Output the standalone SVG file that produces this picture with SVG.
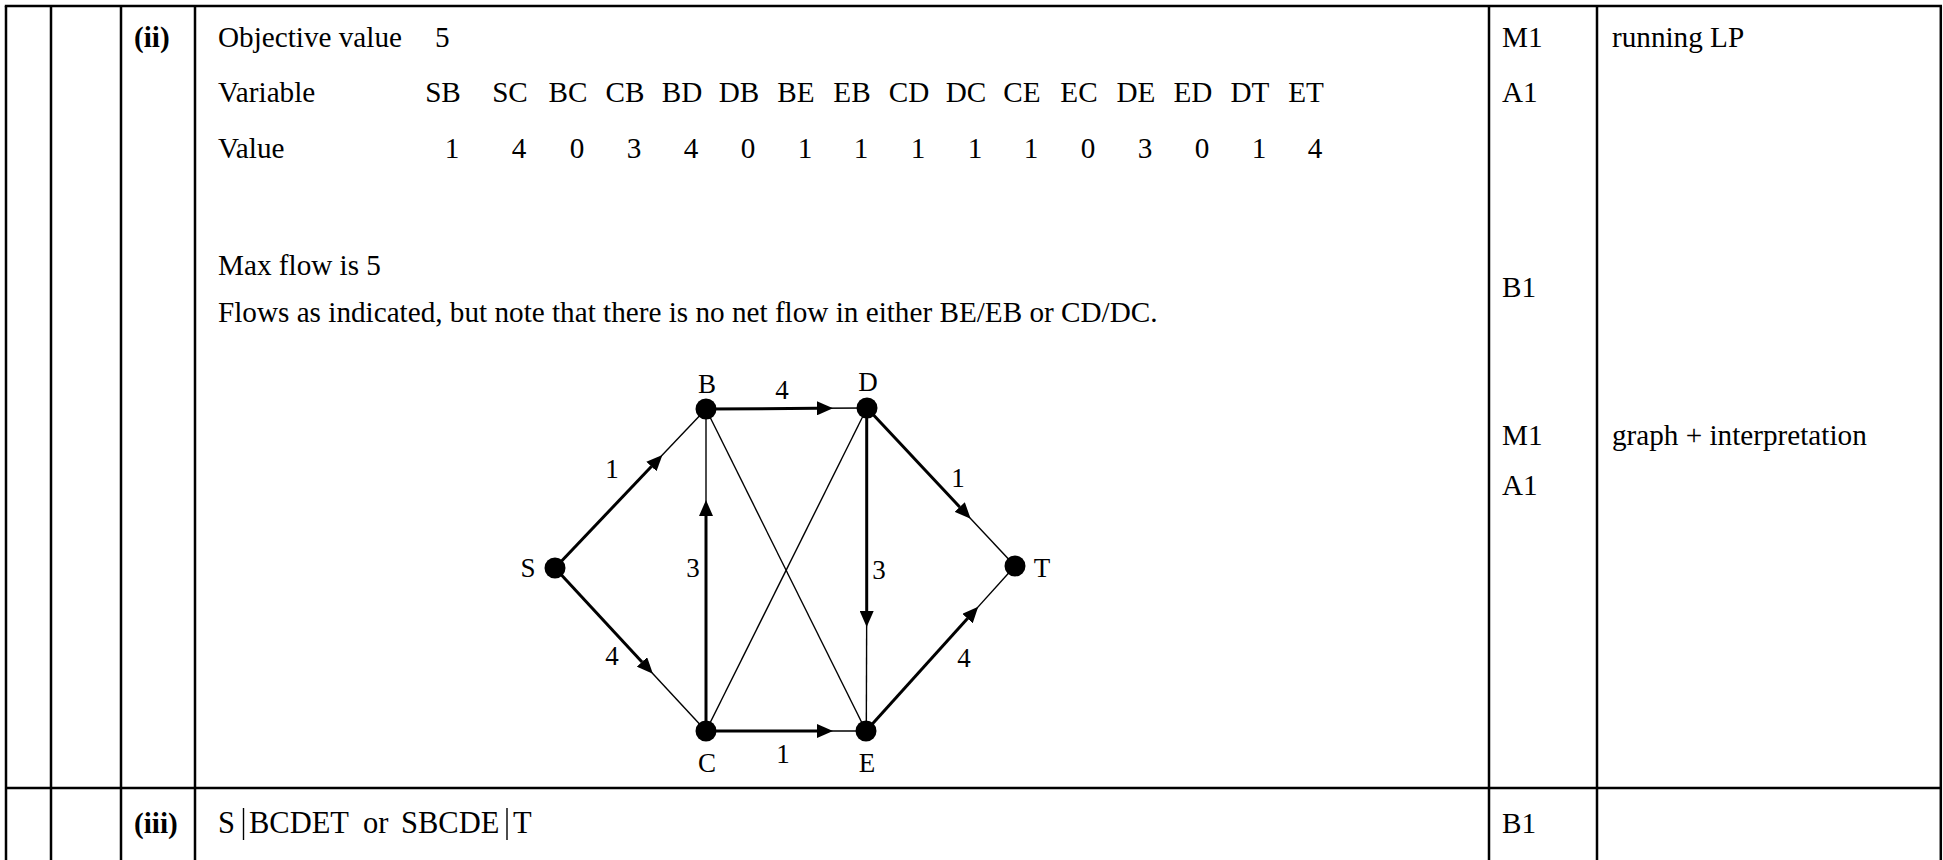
<svg xmlns="http://www.w3.org/2000/svg" width="1943" height="860" viewBox="0 0 1943 860">
<defs>
<marker id="arr" markerUnits="userSpaceOnUse" markerWidth="16" markerHeight="14" refX="0" refY="7" orient="auto" viewBox="0 0 16 14">
<path d="M0,0 L16,7 L0,14 z" fill="#000"/>
</marker>
<style>
.t{font-family:"Liberation Serif","Times New Roman",serif;font-size:29.2px;fill:#000}
.b{font-weight:bold}
.r3{font-size:30.5px}
.g{font-family:"Liberation Serif","Times New Roman",serif;font-size:27px;fill:#000}
.grid{stroke:#000;stroke-width:2.5;fill:none}
.thick{stroke:#000;stroke-width:3;fill:none}
.thin{stroke:#000;stroke-width:1.4;fill:none}
.vh{font-family:"Liberation Serif","Times New Roman",serif;font-size:29.2px;fill:#000;text-anchor:middle}
</style>
</defs>
<rect width="1943" height="860" fill="#fff"/>
<g id="table">
<line class="grid" x1="4.8" y1="6" x2="1942" y2="6"/>
<line class="grid" x1="6" y1="6" x2="6" y2="860"/>
<line class="grid" x1="51" y1="6" x2="51" y2="860"/>
<line class="grid" x1="121" y1="6" x2="121" y2="860"/>
<line class="grid" x1="195" y1="6" x2="195" y2="860"/>
<line class="grid" x1="1489" y1="6" x2="1489" y2="860"/>
<line class="grid" x1="1597" y1="6" x2="1597" y2="860"/>
<line class="grid" x1="1940.8" y1="6" x2="1940.8" y2="860"/>
<line class="grid" x1="6" y1="788" x2="1941" y2="788"/>
</g>
<g id="text-ii">
<text class="t b" x="134" y="47">(ii)</text>
<text class="t" x="218" y="47">Objective value</text>
<text class="t" x="435" y="47">5</text>
<text class="t" x="218" y="102">Variable</text>
<text class="t" x="218" y="158">Value</text>
<text class="vh" y="102"><tspan x="443">SB</tspan><tspan x="510">SC</tspan><tspan x="568">BC</tspan><tspan x="625">CB</tspan><tspan x="682">BD</tspan><tspan x="739">DB</tspan><tspan x="796">BE</tspan><tspan x="852">EB</tspan><tspan x="909">CD</tspan><tspan x="966">DC</tspan><tspan x="1022">CE</tspan><tspan x="1079">EC</tspan><tspan x="1136">DE</tspan><tspan x="1193">ED</tspan><tspan x="1250">DT</tspan><tspan x="1306">ET</tspan></text>
<text class="vh" y="158"><tspan x="452">1</tspan><tspan x="519">4</tspan><tspan x="577">0</tspan><tspan x="634">3</tspan><tspan x="691">4</tspan><tspan x="748">0</tspan><tspan x="805">1</tspan><tspan x="861">1</tspan><tspan x="918">1</tspan><tspan x="975">1</tspan><tspan x="1031">1</tspan><tspan x="1088">0</tspan><tspan x="1145">3</tspan><tspan x="1202">0</tspan><tspan x="1259">1</tspan><tspan x="1315">4</tspan></text>
<text class="t" x="218" y="275">Max flow is 5</text>
<text class="t" x="218" y="322">Flows as indicated, but note that there is no net flow in either BE/EB or CD/DC.</text>
</g>
<g id="marks">
<text class="t" x="1502" y="47">M1</text>
<text class="t" x="1502" y="102">A1</text>
<text class="t" x="1612" y="47">running LP</text>
<text class="t" x="1502" y="297">B1</text>
<text class="t" x="1502" y="445">M1</text>
<text class="t" x="1502" y="495">A1</text>
<text class="t" x="1612" y="445">graph + interpretation</text>
<text class="t" x="1502" y="833">B1</text>
</g>
<g id="text-iii">
<text class="t b" x="134" y="833">(iii)</text>
<text class="t r3" x="218" y="833">S</text>
<line x1="243.5" y1="808" x2="243.5" y2="840" stroke="#000" stroke-width="1.4"/>
<text class="t r3" x="249" y="833">BCDET</text>
<text class="t r3" x="363" y="833">or</text>
<text class="t r3" x="401" y="833">SBCDE</text>
<line x1="507" y1="808" x2="507" y2="840" stroke="#000" stroke-width="1.4"/>
<text class="t r3" x="513" y="833">T</text>
</g>
<g id="connectors">
<line class="thick" x1="555" y1="568" x2="651.4" y2="466.5" marker-end="url(#arr)"/>
<line class="thin" x1="651.4" y1="466.5" x2="706" y2="409"/>
<line class="thick" x1="555" y1="568" x2="642" y2="661.9" marker-end="url(#arr)"/>
<line class="thin" x1="642" y1="661.9" x2="706" y2="731"/>
<line class="thick" x1="706" y1="731" x2="706" y2="516" marker-end="url(#arr)"/>
<line class="thin" x1="706" y1="516" x2="706" y2="409"/>
<line class="thick" x1="706" y1="409" x2="817" y2="408.3" marker-end="url(#arr)"/>
<line class="thin" x1="817" y1="408.3" x2="867" y2="408"/>
<line class="thick" x1="706" y1="731" x2="817" y2="731" marker-end="url(#arr)"/>
<line class="thin" x1="817" y1="731" x2="866" y2="731"/>
<line class="thick" x1="866.7" y1="408" x2="866.7" y2="611" marker-end="url(#arr)"/>
<line class="thin" x1="866.7" y1="611" x2="866.3" y2="731"/>
<line class="thick" x1="867" y1="408" x2="959.7" y2="507" marker-end="url(#arr)"/>
<line class="thin" x1="959.7" y1="507" x2="1015" y2="566"/>
<line class="thick" x1="866" y1="731" x2="967.5" y2="618.6" marker-end="url(#arr)"/>
<line class="thin" x1="967.5" y1="618.6" x2="1015" y2="566"/>
<line class="thin" x1="706" y1="409" x2="866" y2="731"/>
<line class="thin" x1="706" y1="731" x2="867" y2="408"/>
</g>
<g id="edge-labels" class="g" text-anchor="middle">
<text x="782" y="399">4</text>
<text x="612" y="478">1</text>
<text x="693" y="577">3</text>
<text x="612" y="665">4</text>
<text x="879" y="579">3</text>
<text x="958" y="487">1</text>
<text x="964" y="667">4</text>
<text x="783" y="763">1</text>
</g>
<g id="node-S"><circle cx="555" cy="568" r="10.5"/><text class="g" x="528" y="577" text-anchor="middle">S</text></g>
<g id="node-B"><circle cx="706" cy="409" r="10.5"/><text class="g" x="707" y="393" text-anchor="middle">B</text></g>
<g id="node-D"><circle cx="867" cy="408" r="10.5"/><text class="g" x="868" y="391" text-anchor="middle">D</text></g>
<g id="node-C"><circle cx="706" cy="731" r="10.5"/><text class="g" x="707" y="772" text-anchor="middle">C</text></g>
<g id="node-E"><circle cx="866" cy="731" r="10.5"/><text class="g" x="867" y="772" text-anchor="middle">E</text></g>
<g id="node-T"><circle cx="1015" cy="566" r="10.5"/><text class="g" x="1042" y="577" text-anchor="middle">T</text></g>
</svg>
